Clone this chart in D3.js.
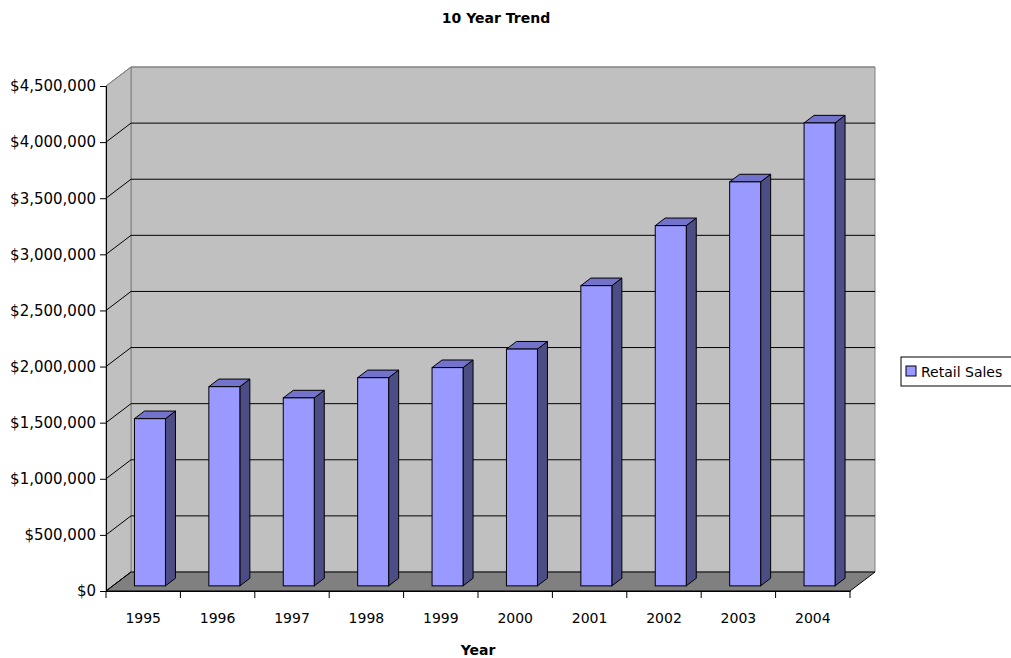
<!DOCTYPE html>
<html>
<head>
<meta charset="utf-8">
<script src="https://cdn.jsdelivr.net/npm/d3@7"></script>
<style>
  body { margin: 0; background: #fff; }
  text { font-family: "Comic Sans MS", "DejaVu Sans", sans-serif; }
</style>
</head>
<body>
<div id="chart"></div>
<script>
// chart data
var years = ["1995","1996","1997","1998","1999","2000","2001","2002","2003","2004"]
var retailSales = [1490000, 1775000, 1675000, 1855000, 1945000, 2110000, 2675000, 3210000, 3600000, 4125000]
var yTicks = [0, 500000, 1000000, 1500000, 2000000, 2500000, 3000000, 3500000, 4000000, 4500000]
var seriesName = "Retail Sales"

var width = 1011, height = 658
// depth of the 3d box (offset of the back wall)
var depth = {x: 25, y: -19}

var svg = d3.select("#chart").append("svg")
    .attr("width", width)
    .attr("height", height)

var x = d3.scaleBand().domain(years).range([106, 850])
var y = d3.scaleLinear().domain([0, 4500000]).range([591, 86])

var x0 = x.range()[0], x1 = x.range()[1]
var yb = y(0), yt = y(4500000)

// back wall
svg.append("path")
    .attr("d", "M" + (x0 + depth.x) + "," + (yt + depth.y) +
               "L" + (x1 + depth.x) + "," + (yt + depth.y) +
               "L" + (x1 + depth.x) + "," + (yb + depth.y) +
               "L" + (x0 + depth.x) + "," + (yb + depth.y) + "Z")
    .attr("fill", "#c0c0c0")
    .attr("stroke", "#808080")
    .attr("stroke-width", 1)

// side wall
svg.append("path")
    .attr("d", "M" + x0 + "," + yt +
               "L" + (x0 + depth.x) + "," + (yt + depth.y) +
               "L" + (x0 + depth.x) + "," + (yb + depth.y) +
               "L" + x0 + "," + yb + "Z")
    .attr("fill", "#c0c0c0")
    .attr("stroke", "#808080")
    .attr("stroke-width", 1)

// floor
svg.append("path")
    .attr("d", "M" + x0 + "," + yb +
               "L" + (x0 + depth.x) + "," + (yb + depth.y) +
               "L" + (x1 + depth.x) + "," + (yb + depth.y) +
               "L" + x1 + "," + yb + "Z")
    .attr("fill", "#808080")
    .attr("stroke", "#000")
    .attr("stroke-width", 1)

// gridlines (back wall + diagonal on side wall)
var grid = svg.append("g")
grid.selectAll("line.back")
    .data(yTicks.filter(function(d){ return d > 0 }))
  .enter().append("line")
    .attr("class", "back")
    .attr("x1", x0 + depth.x)
    .attr("x2", x1 + depth.x)
    .attr("y1", function(d){ return y(d) + depth.y })
    .attr("y2", function(d){ return y(d) + depth.y })
    .attr("stroke", function(d){ return d == 4500000 ? "#808080" : "#000" })
grid.selectAll("line.side")
    .data(yTicks)
  .enter().append("line")
    .attr("class", "side")
    .attr("x1", x0)
    .attr("x2", x0 + depth.x)
    .attr("y1", function(d){ return y(d) })
    .attr("y2", function(d){ return y(d) + depth.y })
    .attr("stroke", function(d){ return d == 4500000 ? "#808080" : "#000" })

// bars
var barW = 31
var front = 0.27, bDepth = 0.4
var bars = svg.selectAll("g.bar")
    .data(years.map(function(d, i){ return {year: d, value: retailSales[i]} }))
  .enter().append("g")
    .attr("class", "bar")

function bx(d) { return x(d.year) + (x.bandwidth() - barW) / 2 + depth.x * front }
function byTop(d) { return y(d.value) + depth.y * front }
function byBot(d) { return y(0) + depth.y * front }
var ddx = depth.x * bDepth, ddy = depth.y * bDepth

// right side
bars.append("path")
    .attr("d", function(d){
      var l = bx(d) + barW
      return "M" + l + "," + byTop(d) + "L" + (l + ddx) + "," + (byTop(d) + ddy) +
             "L" + (l + ddx) + "," + (byBot(d) + ddy) + "L" + l + "," + byBot(d) + "Z"
    })
    .attr("fill", "#4d4d85")
    .attr("stroke", "#000")
    .attr("stroke-linejoin", "round")
// top
bars.append("path")
    .attr("d", function(d){
      var l = bx(d)
      return "M" + l + "," + byTop(d) + "L" + (l + ddx) + "," + (byTop(d) + ddy) +
             "L" + (l + barW + ddx) + "," + (byTop(d) + ddy) + "L" + (l + barW) + "," + byTop(d) + "Z"
    })
    .attr("fill", "#7373cc")
    .attr("stroke", "#000")
    .attr("stroke-linejoin", "round")
// front
bars.append("rect")
    .attr("x", bx)
    .attr("y", byTop)
    .attr("width", barW)
    .attr("height", function(d){ return byBot(d) - byTop(d) })
    .attr("fill", "#9999ff")
    .attr("stroke", "#000")

// Y axis
svg.append("g")
    .attr("transform", "translate(" + x0 + ",0)")
    .call(d3.axisLeft(y).tickValues(yTicks).tickSize(6).tickPadding(4)
      .tickFormat(function(d){ return "$" + d3.format(",")(d) }))
    .call(function(g){ g.select(".domain").attr("stroke", "#000") })
    .call(function(g){ g.selectAll("text").attr("font-size", "15px").attr("font-family", null).attr("fill", "#000") })

// X axis
svg.append("g")
    .attr("transform", "translate(0," + yb + ")")
    .call(d3.axisBottom(x).tickSize(0).tickPadding(22))
    .call(function(g){ g.selectAll("text").attr("font-size", "14px").attr("font-family", null).attr("fill", "#000") })
    .call(function(g){ g.select(".domain").attr("stroke", "#000") })
// category separator ticks
svg.append("g").selectAll("line")
    .data(years.concat(["end"]))
  .enter().append("line")
    .attr("x1", function(d){ return d == "end" ? x1 : x(d) })
    .attr("x2", function(d){ return d == "end" ? x1 : x(d) })
    .attr("y1", yb)
    .attr("y2", yb + 7)
    .attr("stroke", "#000")

// title + axis title
svg.append("text")
    .attr("x", 496)
    .attr("y", 23)
    .attr("text-anchor", "middle")
    .attr("font-size", "14px")
    .attr("font-weight", "bold")
    .text("10 Year Trend")
svg.append("text")
    .attr("x", 478)
    .attr("y", 655)
    .attr("text-anchor", "middle")
    .attr("font-size", "14px")
    .attr("font-weight", "bold")
    .text("Year")

// legend
var legend = svg.append("g").attr("transform", "translate(901,357)")
legend.append("rect")
    .attr("width", 120).attr("height", 29)
    .attr("fill", "#fff").attr("stroke", "#000")
legend.append("rect")
    .attr("x", 5).attr("y", 9).attr("width", 10).attr("height", 10)
    .attr("fill", "#9999ff").attr("stroke", "#000")
legend.append("text")
    .attr("x", 20).attr("y", 20)
    .attr("font-size", "14px")
    .text(seriesName)
</script>
</body>
</html>
